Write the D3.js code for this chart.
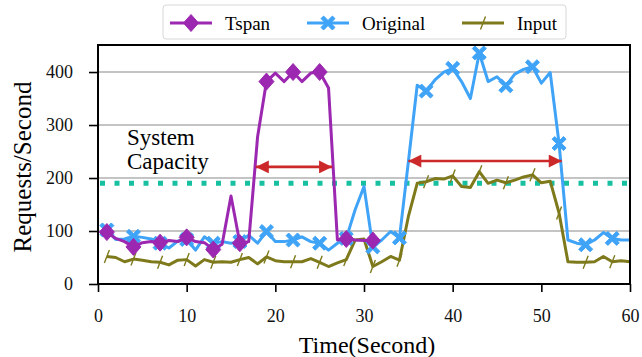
<!DOCTYPE html>
<html>
<head>
<meta charset="utf-8">
<script src="https://cdn.jsdelivr.net/npm/d3@7"></script>
<style>
body { margin: 0; background: #fff; }
text { font-family: "Liberation Serif", "DejaVu Serif", serif; }
</style>
</head>
<body>
<svg id="chart" width="642" height="357"></svg>
<script>
// data, one value per second starting at t=1
var tspan = [98, 86, 80, 70, 78, 80, 78, 82, 80, 88, 80, 78, 65, 75, 166, 77, 80, 278, 382, 398,
             382, 400, 382, 398, 400, 370, 83, 85, 83, 82, 82];
var original = [102, 84, 85, 90, 88, 85, 77, 68, 81, 84, 64, 89, 77, 80, 77, 80, 92, 77, 99, 80,
                80, 83, 89, 80, 77, 64, 77, 86, 140, 184, 70, 83, 99, 87, 230, 375, 364, 385, 400, 407,
                382, 350, 436, 382, 391, 374, 396, 405, 410, 379, 399, 265, 83, 77, 74, 83, 97, 86, 83, 83];
var input = [52, 50, 42, 47, 45, 42, 41, 36, 45, 46, 34, 46, 41, 42, 41, 46, 50, 38, 51, 44,
             42, 42, 42, 48, 41, 33, 40, 46, 83, 85, 33, 42, 52, 45, 127, 190, 193, 199, 198, 204,
             184, 182, 212, 190, 196, 191, 196, 202, 206, 191, 194, 134, 42, 41, 41, 42, 52, 42, 44, 42];
var capacity = 190;
var arrows = [[17.8, 26.4, 221], [35.0, 52.3, 232]];
var xTicks = [0, 10, 20, 30, 40, 50, 60];
var yTicks = [0, 100, 200, 300, 400];
var seriesNames = ["Tspan", "Original", "Input"];

var colors = { Tspan: "#9c27b0", Original: "#3fa3f7", Input: "#7e7a1c" };
var W = 642, H = 357;
var m = { left: 98, right: 12, top: 45, bottom: 73 };
var svg = d3.select("#chart");

var x = d3.scaleLinear().domain([0, 60]).range([m.left, W - m.right]);
var y = d3.scaleLinear().domain([0, 451]).range([H - m.bottom, m.top]);

// grid
svg.append("g").selectAll("line").data(yTicks.filter(d => d > 0)).join("line")
    .attr("x1", m.left).attr("x2", W - m.right)
    .attr("y1", d => y(d)).attr("y2", d => y(d))
    .attr("stroke", "#b0b0b0").attr("stroke-width", 1.6);

// capacity line
svg.append("line")
    .attr("x1", m.left + 2).attr("x2", W - m.right)
    .attr("y1", y(capacity)).attr("y2", y(capacity))
    .attr("stroke", "#17c0a0").attr("stroke-width", 5)
    .attr("stroke-dasharray", "5,9.5");

var line = d3.line().x((d, i) => x(i + 1)).y(d => y(d));

function diamond(g) {
    g.append("path").attr("d", "M0,-8.5L7.5,0L0,8.5L-7.5,0Z");
}
function cross(g) {
    var a = 7, b = 2.6;
    g.append("path").attr("d",
        "M" + (-a) + "," + (-a + b) + "L" + (-a + b) + "," + (-a) + "L0," + (-b) +
        "L" + (a - b) + "," + (-a) + "L" + a + "," + (-a + b) + "L" + b + ",0" +
        "L" + a + "," + (a - b) + "L" + (a - b) + "," + a + "L0," + b +
        "L" + (-a + b) + "," + a + "L" + (-a) + "," + (a - b) + "L" + (-b) + ",0Z");
}
function tick(g) {
    g.append("line").attr("x1", -2.5).attr("y1", 6.5).attr("x2", 2.5).attr("y2", -6.5)
        .attr("stroke-width", 1.4);
}
var markers = { Tspan: diamond, Original: cross, Input: tick };

function drawSeries(name, data) {
    var c = colors[name];
    svg.append("path").datum(data)
        .attr("d", line).attr("fill", "none")
        .attr("stroke", c).attr("stroke-width", 3).attr("stroke-linejoin", "round");
    data.forEach(function(v, i) {
        if (i % 3 !== 0) return;
        var g = svg.append("g")
            .attr("transform", "translate(" + x(i + 1) + "," + y(v) + ")")
            .attr("fill", c).attr("stroke", c);
        markers[name](g);
    });
}
drawSeries("Input", input);
drawSeries("Original", original);
drawSeries("Tspan", tspan);

// arrows
var defs = svg.append("defs");
defs.append("marker").attr("id", "ah").attr("viewBox", "0 0 10 10")
    .attr("refX", 10).attr("refY", 5).attr("markerWidth", 6).attr("markerHeight", 5)
    .attr("markerUnits", "strokeWidth").attr("orient", "auto-start-reverse")
    .append("path").attr("d", "M0,0L10,5L0,10Z").attr("fill", "#cc2a2a");
arrows.forEach(function(a) {
    svg.append("line")
        .attr("x1", x(a[0])).attr("x2", x(a[1]))
        .attr("y1", y(a[2])).attr("y2", y(a[2]))
        .attr("stroke", "#cc2a2a").attr("stroke-width", 2.6)
        .attr("marker-start", "url(#ah)").attr("marker-end", "url(#ah)");
});

svg.append("text").attr("x", 127).attr("y", 145).attr("font-size", 23).text("System");
svg.append("text").attr("x", 127).attr("y", 169).attr("font-size", 23).text("Capacity");

// axes
var xAxis = svg.append("g").attr("transform", "translate(0," + (H - m.bottom) + ")")
    .call(d3.axisBottom(x).tickValues(xTicks).tickSize(8).tickPadding(17));
var yAxis = svg.append("g").attr("transform", "translate(" + m.left + ",0)")
    .call(d3.axisLeft(y).tickValues(yTicks).tickSize(9).tickPadding(16));
[xAxis, yAxis].forEach(function(g) {
    g.select(".domain").remove();
    g.selectAll("line").attr("stroke", "#000").attr("stroke-width", 1.6);
    g.selectAll("text").attr("font-size", 18).attr("fill", "#111")
        .style("font-family", "Liberation Serif");
});
svg.append("rect")
    .attr("x", m.left).attr("y", m.top)
    .attr("width", W - m.left - m.right).attr("height", H - m.top - m.bottom)
    .attr("fill", "none").attr("stroke", "#000").attr("stroke-width", 2);

svg.append("text").attr("x", (m.left + W - m.right) / 2 + 3).attr("y", 353)
    .attr("text-anchor", "middle").attr("font-size", 24).text("Time(Second)");
svg.append("text").attr("transform", "translate(31,167) rotate(-90)")
    .attr("text-anchor", "middle").attr("font-size", 25).text("Requests/Second");

// legend
var lg = svg.append("g");
lg.append("rect").attr("x", 163).attr("y", 5).attr("width", 403).attr("height", 34).attr("rx", 3)
    .attr("fill", "#fff").attr("stroke", "#d8d8d8");
var lx = [170, 307, 462];
seriesNames.forEach(function(n, i) {
    var c = colors[n];
    lg.append("line").attr("x1", lx[i]).attr("x2", lx[i] + 42).attr("y1", 23).attr("y2", 23)
        .attr("stroke", c).attr("stroke-width", 3);
    var g = lg.append("g").attr("transform", "translate(" + (lx[i] + 21) + ",23)")
        .attr("fill", c).attr("stroke", c);
    markers[n](g);
    lg.append("text").attr("x", lx[i] + 55).attr("y", 29.5).attr("font-size", 19).text(n);
});
</script>
</body>
</html>
